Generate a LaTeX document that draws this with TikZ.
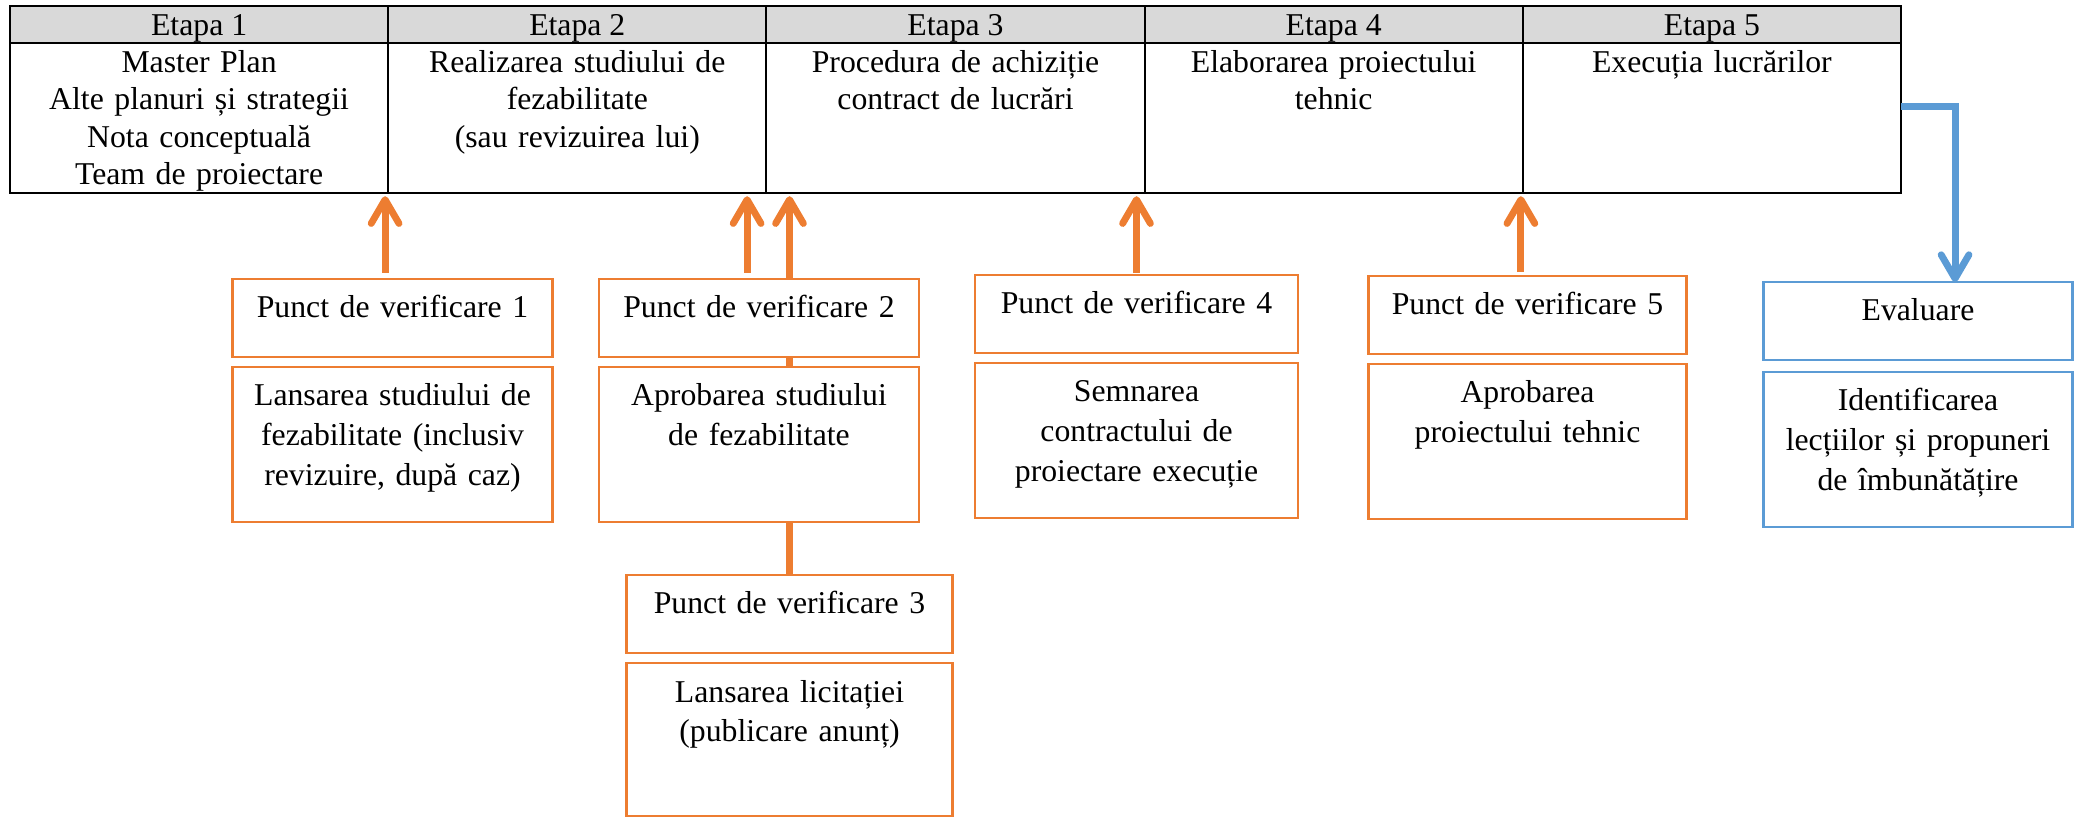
\documentclass[tikz,border=0pt]{standalone}
\usepackage{fontspec}
\setmainfont{Liberation Serif}
\usepackage{tikz}
\usetikzlibrary{arrows.meta,positioning,backgrounds}
\definecolor{steporange}{RGB}{237,125,49}
\definecolor{evalblue}{RGB}{91,155,213}
\definecolor{headgray}{RGB}{217,217,217}

\begin{document}
\begin{tikzpicture}[x=0.378pt, y=-0.378pt, node distance=0pt, every node/.style={font=\fontsize{12}{15}\selectfont, outer sep=0pt}]
\tikzstyle{head}=[draw, line width=0.8pt, fill=headgray, inner sep=0pt, minimum width=142.96pt, text height=11pt, text depth=3pt]
\tikzstyle{cell}=[draw, line width=0.8pt, inner sep=0pt, text width=142.96pt, align=center, text height=11.3pt, text depth=45.4pt, font=\fontsize{12}{14}\selectfont]
\tikzstyle{pbox}=[draw=steporange, line width=1pt, fill=white, inner xsep=3pt, inner ysep=0pt, text width=115pt, align=center, text height=14.7pt, text depth=14.8pt, anchor=north]
\tikzstyle{dbox}=[pbox, text depth=43.9pt]
\tikzstyle{ebox}=[pbox, draw=evalblue, text width=111pt]
\tikzstyle{fbox}=[ebox, text depth=43.9pt]
\tikzstyle{arr}=[draw=steporange, line width=2.6pt, -{Straight Barb[length=9pt, width=10.5pt, round]}]
\tikzstyle{barr}=[arr, draw=evalblue]
\useasboundingbox (0,0) rectangle (2086,820);
\node[head, anchor=north west] (h1) at (10,6) {Etapa 1};
\node[head, right=of h1] (h2) {Etapa 2};
\node[head, right=of h2] (h3) {Etapa 3};
\node[head, right=of h3] (h4) {Etapa 4};
\node[head, right=of h4] (h5) {Etapa 5};
\node[cell, below=of h1] (b1) {Master Plan\\Alte planuri și strategii\\Nota conceptuală\\Team de proiectare};
\node[cell, below=of h2] (b2) {Realizarea studiului de\\fezabilitate\\(sau revizuirea lui)};
\node[cell, below=of h3] (b3) {Procedura de achiziție\\contract de lucrări};
\node[cell, below=of h4] (b4) {Elaborarea proiectului\\tehnic};
\node[cell, below=of h5] (b5) {Execuția lucrărilor};
\node[pbox] (pv1) at (392.5,279) {Punct de verificare 1};
\node[dbox, below=3.8pt of pv1] (l1) {Lansarea studiului de\\fezabilitate (inclusiv\\revizuire, după caz)};
\node[pbox] (pv2) at (759,279) {Punct de verificare 2};
\node[dbox, below=3.8pt of pv2] (l2) {Aprobarea studiului\\de fezabilitate};
\node[pbox, text width=117pt] (pv3) at (789.5,575) {Punct de verificare 3};
\node[dbox, text width=117pt, text depth=43.1pt, below=3.8pt of pv3] (l3) {Lansarea licitației\\(publicare anunț)};
\node[pbox, text width=116pt] (pv4) at (1136.5,275) {Punct de verificare 4};
\node[dbox, text width=116pt, below=3.8pt of pv4] (l4) {Semnarea\\contractului de\\proiectare execuție};
\node[pbox, text width=114pt] (pv5) at (1527.5,276) {Punct de verificare 5};
\node[dbox, text width=114pt, below=3.8pt of pv5] (l5) {Aprobarea\\proiectului tehnic};
\node[ebox] (ev) at (1918,282) {Evaluare};
\node[fbox, below=4.5pt of ev] (lev) {Identificarea\\lecțiilor și propuneri\\de îmbunătățire};
\draw[arr] ([xshift=-2.8pt, yshift=2.3pt]pv1.north) -- ([xshift=-2.8pt, yshift=-1.2pt]pv1.north |- b1.south);
\draw[arr] ([xshift=-4.5pt, yshift=2.3pt]pv2.north) -- ([xshift=-4.5pt, yshift=-1.2pt]pv2.north |- b2.south);
\begin{pgfonlayer}{background}
\draw[arr] (pv3.north) -- ([yshift=-1.2pt]pv3.north |- b3.south);
\end{pgfonlayer}
\draw[arr] ([yshift=0.8pt]pv4.north) -- ([yshift=-1.2pt]pv4.north |- b4.south);
\draw[arr] ([xshift=-2.5pt, yshift=1.5pt]pv5.north) -- ([xshift=-2.5pt, yshift=-1.2pt]pv5.north |- b5.south);
\draw[barr] ([yshift=4.2pt]b5.east) -| ([xshift=14pt]ev.north);
\end{tikzpicture}
\end{document}
